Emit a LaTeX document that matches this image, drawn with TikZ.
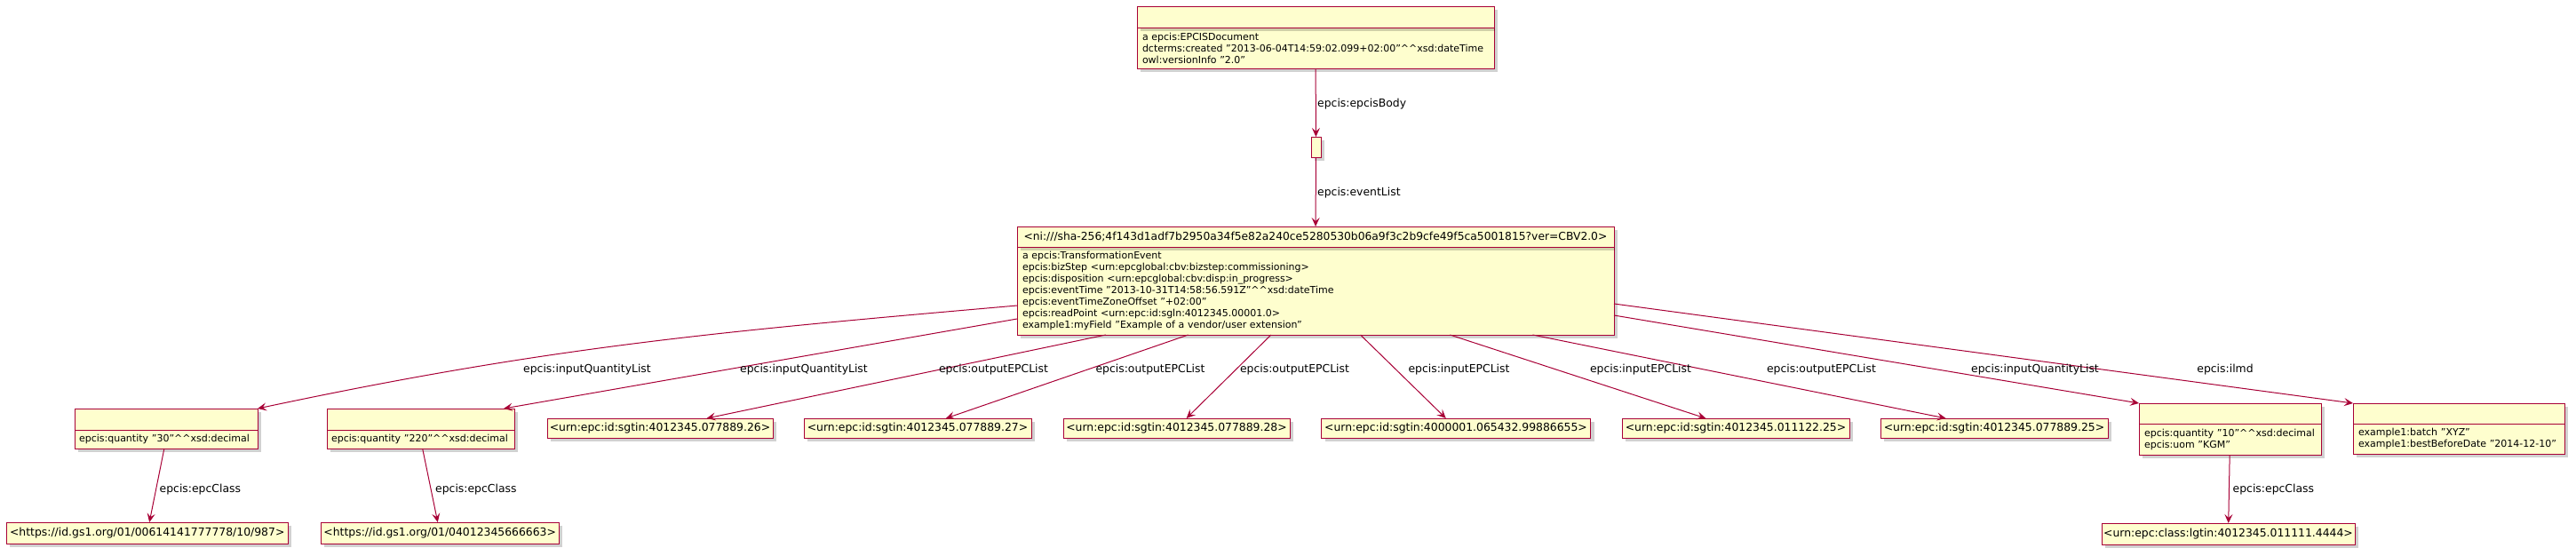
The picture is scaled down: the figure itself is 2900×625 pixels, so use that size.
\documentclass[tikz,border=0pt]{standalone}
\usepackage{fontspec}
\setmainfont{DejaVu Sans}
\usetikzlibrary{positioning}
\usetikzlibrary{shadows}
\usetikzlibrary{arrows.meta}
\definecolor{umlfill}{HTML}{FEFECE}
\definecolor{umlline}{HTML}{A80036}
\newcommand{\attrfont}{\fontsize{11}{13}\selectfont}
\newcommand{\namefont}{\fontsize{12.3}{15}\selectfont}
\newcommand{\lblfont}{\fontsize{12.4}{15}\selectfont}
\newcommand{\dcaret}{\textasciicircum\textasciicircum}
\tikzset{
  umlbox/.style={draw=umlline, fill=umlfill, line width=1pt, outer sep=0pt, inner sep=0pt,
    drop shadow={shadow xshift=4pt, shadow yshift=-4pt, fill=black, opacity=0.18}},
  attrs/.style={umlbox, font=\attrfont, align=left, inner xsep=6pt},
  iri/.style={umlbox, font=\lblfont, minimum height=22pt, inner xsep=2pt},
  rel/.style={draw=umlline, line width=1pt, -{Stealth[length=10pt,width=9pt,inset=4pt]}},
  lbl/.style={font=\lblfont, inner sep=1pt}
}
\begin{document}
\begin{tikzpicture}[x=1pt,y=-1pt]
\useasboundingbox (0,0) rectangle (2900,625);
% document
\node[attrs, text width=390pt, minimum height=46pt, anchor=north west] (docb) at (1280,31)
  {a epcis:EPCISDocument\\dcterms:created "2013-06-04T14:59:02.099+02:00"\dcaret xsd:dateTime\\owl:versionInfo "2.0"};
\node[umlbox, minimum width=402pt, minimum height=24pt, above=0pt of docb] (doch) {};
\node[umlbox, minimum width=11pt, minimum height=23pt, anchor=north west] (bodyn) at (1476,154) {};
% event
\node[attrs, text width=660pt, minimum height=99pt, anchor=north west] (evb) at (1145,278)
  {a epcis:TransformationEvent\\
   epcis:bizStep <urn:epcglobal:cbv:bizstep:commissioning>\\
   epcis:disposition <urn:epcglobal:cbv:disp:in\_progress>\\
   epcis:eventTime "2013-10-31T14:58:56.591Z"\dcaret xsd:dateTime\\
   epcis:eventTimeZoneOffset "+02:00"\\
   epcis:readPoint <urn:epc:id:sgln:4012345.00001.0>\\
   example1:myField "Example of a vendor/user extension"};
\node[umlbox, font=\namefont, minimum width=672pt, minimum height=23pt, above=0pt of evb] (evh)
  {<ni:///sha-256;4f143d1adf7b2950a34f5e82a240ce5280530b06a9f3c2b9cfe49f5ca5001815?ver=CBV2.0>};
% quantity elements
\node[umlbox, minimum width=206pt, minimum height=24pt, anchor=north west] (qah) at (84,460) {};
\node[attrs, inner xsep=5pt, text width=196pt, minimum height=21pt, below=0pt of qah] (qab)
  {epcis:quantity "30"\dcaret xsd:decimal};
\node[umlbox, minimum width=211pt, minimum height=24pt, anchor=north west] (qbh) at (368,460) {};
\node[attrs, inner xsep=5pt, text width=201pt, minimum height=21pt, below=0pt of qbh] (qbb)
  {epcis:quantity "220"\dcaret xsd:decimal};
\node[umlbox, minimum width=205pt, minimum height=23pt, anchor=north west] (qch) at (2408,454) {};
\node[attrs, text width=193pt, minimum height=35pt, below=0pt of qch] (qcb)
  {epcis:quantity "10"\dcaret xsd:decimal\\epcis:uom "KGM"};
\node[umlbox, minimum width=238pt, minimum height=23pt, anchor=north west] (ilh) at (2649,454) {};
\node[attrs, text width=226pt, minimum height=34pt, below=0pt of ilh] (ilb)
  {example1:batch "XYZ"\\example1:bestBeforeDate "2014-12-10"};
% epc lists
\node[iri, minimum width=254pt] (s26) at (743,482) {<urn:epc:id:sgtin:4012345.077889.26>};
\node[iri, minimum width=256pt] (s27) at (1033,482) {<urn:epc:id:sgtin:4012345.077889.27>};
\node[iri, minimum width=255pt] (s28) at (1324.5,482) {<urn:epc:id:sgtin:4012345.077889.28>};
\node[iri, minimum width=303pt] (s55) at (1639,482) {<urn:epc:id:sgtin:4000001.065432.99886655>};
\node[iri, minimum width=256pt] (s22) at (1954,482) {<urn:epc:id:sgtin:4012345.011122.25>};
\node[iri, minimum width=256pt] (s25) at (2245,482) {<urn:epc:id:sgtin:4012345.077889.25>};
% classes
\node[iri, minimum width=317pt, minimum height=24pt] (cla) at (165.75,600) {<https://id.gs1.org/01/00614141777778/10/987>};
\node[iri, minimum width=268pt, minimum height=24pt] (clb) at (495.25,600) {<https://id.gs1.org/01/04012345666663>};
\node[iri, minimum width=285pt, minimum height=24pt] (clc) at (2508.5,601) {<urn:epc:class:lgtin:4012345.011111.4444>};
% connectors
\draw[rel] (docb) -- (bodyn);
\draw[rel] (bodyn) -- (evh);
\draw[rel] ([yshift=-16.5pt]evb.west) to[out=185, in=12] (qah.north east);
\draw[rel] ([yshift=-31.5pt]evb.west) -- ([xshift=-12pt]qbh.north east);
\draw[rel] (evb) -- (s26);
\draw[rel] (evb) -- (s27);
\draw[rel] (evb) -- (s28);
\draw[rel] (evb) -- (s55);
\draw[rel] (evb) -- (s22);
\draw[rel] (evb) -- (s25);
\draw[rel] ([yshift=-27.5pt]evb.east) -- (qch.north west);
\draw[rel] ([yshift=-14.5pt]evb.east) -- (ilh.north west);
\draw[rel] (qab) -- (cla);
\draw[rel] (qbb) -- (clb);
\draw[rel] (qcb) -- (clc);
% labels
\node[lbl, anchor=west] (l1) at (1482,117) {epcis:epcisBody};
\node[lbl, anchor=west] (l2) at (1482,217) {epcis:eventList};
\node[lbl] (l3) at (661,416) {epcis:inputQuantityList};
\node[lbl] (l4) at (905,416) {epcis:inputQuantityList};
\node[lbl] (l5) at (1118.5,416) {epcis:outputEPCList};
\node[lbl] (l6) at (1295,416) {epcis:outputEPCList};
\node[lbl] (l7) at (1457.5,416) {epcis:outputEPCList};
\node[lbl] (l8) at (1642.5,416) {epcis:inputEPCList};
\node[lbl] (l9) at (1847,416) {epcis:inputEPCList};
\node[lbl] (l10) at (2050.5,416) {epcis:outputEPCList};
\node[lbl] (l11) at (2291,416) {epcis:inputQuantityList};
\node[lbl] (l12) at (2505,416) {epcis:ilmd};
\node[lbl, anchor=west] (l13) at (178.5,551) {epcis:epcClass};
\node[lbl, anchor=west] (l14) at (489,551) {epcis:epcClass};
\node[lbl, anchor=west] (l15) at (2512.5,551) {epcis:epcClass};
\end{tikzpicture}
\end{document}
